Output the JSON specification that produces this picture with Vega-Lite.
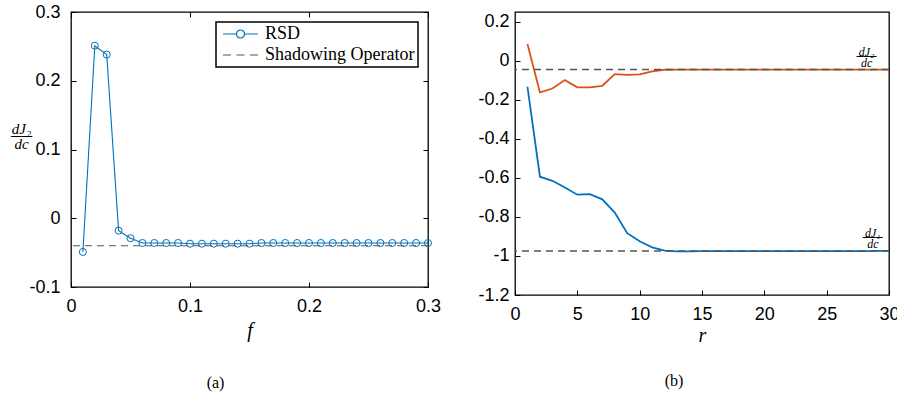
{
"$schema": "https://vega.github.io/schema/vega-lite/v6.json",
"background": "white",
"padding": {"left": 9, "top": 2, "right": 0, "bottom": 0},
"config": {
  "view": {"stroke": "#000", "strokeWidth": 1.3},
  "axis": {"domain": false, "grid": false, "tickColor": "#000", "tickSize": -5, "tickWidth": 1,
    "labelFont": "Liberation Sans", "labelFontSize": 18, "labelColor": "#000", "labelFlush": false, "labelOverlap": false,
    "titleFont": "Liberation Serif", "titleFontStyle": "italic", "titleFontWeight": "normal", "titleFontSize": 20, "titleColor": "#000"},
  "title": {"font": "Liberation Serif", "fontSize": 16, "fontWeight": "normal", "color": "#000"}
},
"resolve": {"scale": {"color": "independent"}, "legend": {"color": "independent"}},
"spacing": 35,
"hconcat": [
{
  "width": 357, "height": 275,
  "title": {"text": "(a)", "orient": "bottom", "anchor": "middle", "frame": "group", "dx": -34, "offset": 35},
  "data": {"values": [
    {"name": "RSD", "f": 0.01, "v": -0.049}, {"name": "RSD", "f": 0.02, "v": 0.251}, {"name": "RSD", "f": 0.03, "v": 0.238},
    {"name": "RSD", "f": 0.04, "v": -0.018}, {"name": "RSD", "f": 0.05, "v": -0.029}, {"name": "RSD", "f": 0.06, "v": -0.036},
    {"name": "RSD", "f": 0.07, "v": -0.036}, {"name": "RSD", "f": 0.08, "v": -0.036}, {"name": "RSD", "f": 0.09, "v": -0.036},
    {"name": "RSD", "f": 0.10, "v": -0.037}, {"name": "RSD", "f": 0.11, "v": -0.037}, {"name": "RSD", "f": 0.12, "v": -0.037},
    {"name": "RSD", "f": 0.13, "v": -0.037}, {"name": "RSD", "f": 0.14, "v": -0.037}, {"name": "RSD", "f": 0.15, "v": -0.037},
    {"name": "RSD", "f": 0.16, "v": -0.036}, {"name": "RSD", "f": 0.17, "v": -0.036}, {"name": "RSD", "f": 0.18, "v": -0.036},
    {"name": "RSD", "f": 0.19, "v": -0.036}, {"name": "RSD", "f": 0.20, "v": -0.036}, {"name": "RSD", "f": 0.21, "v": -0.036},
    {"name": "RSD", "f": 0.22, "v": -0.036}, {"name": "RSD", "f": 0.23, "v": -0.036}, {"name": "RSD", "f": 0.24, "v": -0.036},
    {"name": "RSD", "f": 0.25, "v": -0.036}, {"name": "RSD", "f": 0.26, "v": -0.036}, {"name": "RSD", "f": 0.27, "v": -0.036},
    {"name": "RSD", "f": 0.28, "v": -0.036}, {"name": "RSD", "f": 0.29, "v": -0.036}, {"name": "RSD", "f": 0.30, "v": -0.036}
  ]},
  "layer": [
    {
      "mark": {"type": "line", "strokeWidth": 1.1},
      "encoding": {
        "x": {"field": "f", "type": "quantitative", "scale": {"domain": [0, 0.3], "nice": false, "zero": false},
          "axis": {"orient": "bottom", "values": [0, 0.1, 0.2, 0.3], "labelPadding": 15, "labelExpr": "format(datum.value, '.1~f')", "title": "f", "titlePadding": 5}},
        "y": {"field": "v", "type": "quantitative", "scale": {"domain": [-0.1, 0.3], "nice": false, "zero": false},
          "axis": {"orient": "left", "values": [-0.1, 0, 0.1, 0.2, 0.3], "labelPadding": 16,
            "labelExpr": "(datum.value < -0.00001 ? '-' : '') + format(abs(datum.value), '.1~f')",
            "title": ["dJ₂", "──", "dc"], "titleFontSize": 15, "titleLineHeight": 7.5, "titleAngle": 0, "titleAlign": "center", "titleBaseline": "middle", "titleX": -50, "titleY": 116}},
        "color": {"field": "name", "type": "nominal",
          "scale": {"domain": ["RSD", "Shadowing Operator"], "range": ["#0072BD", "#555555"]},
          "legend": {"title": null, "orient": "top-right", "offset": 10, "padding": 3, "rowPadding": 3,
            "strokeColor": "#000", "fillColor": "#fff", "labelFont": "Liberation Serif", "labelFontSize": 18, "labelColor": "#000",
            "labelLimit": 400, "symbolSize": 100, "labelOffset": 28,
            "encode": {
              "legend": {"update": {"strokeWidth": {"value": 1.5}}},
              "symbols": {"update": {
                "shape": {"signal": "datum.value === 'RSD' ? 'M-1,0H1.7A0.8,0.8 0 1,1 3.3,0A0.8,0.8 0 1,1 1.7,0M3.3,0H6' : 'M-1,0H0.6M1.7,0H3.3M4.4,0H6'"},
                "stroke": {"signal": "datum.value === 'RSD' ? '#0072BD' : '#555555'"},
                "fill": {"value": "transparent"},
                "strokeWidth": {"value": 1.2},
                "strokeDash": {"value": [1, 0]},
                "opacity": {"value": 1}
              }}
            }}}
      }
    },
    {
      "mark": {"type": "point", "filled": false, "size": 50, "strokeWidth": 1, "color": "#0072BD", "opacity": 1},
      "encoding": {
        "x": {"field": "f", "type": "quantitative", "scale": {"domain": [0, 0.3], "nice": false, "zero": false},
          "axis": {"orient": "top", "values": [0, 0.1, 0.2, 0.3], "labels": false, "title": null}},
        "y": {"field": "v", "type": "quantitative", "scale": {"domain": [-0.1, 0.3], "nice": false, "zero": false},
          "axis": {"orient": "right", "values": [-0.1, 0, 0.1, 0.2, 0.3], "labels": false, "title": null}}
      }
    },
    {
      "data": {"values": [{"name": "Shadowing Operator", "value": -0.04}]},
      "mark": {"type": "rule", "strokeDash": [7, 5], "strokeWidth": 1.2, "color": "#555555"},
      "encoding": {
        "y": {"field": "value", "type": "quantitative", "scale": {"domain": [-0.1, 0.3], "nice": false, "zero": false}, "axis": null}
      }
    }
  ],
  "resolve": {"axis": {"x": "independent", "y": "independent"}}
},
{
  "width": 374, "height": 283,
  "title": {"text": "(b)", "orient": "bottom", "anchor": "middle", "frame": "group", "dx": -28, "offset": 28},
  "data": {"values": [
    {"series": "J2", "r": 1, "v": 0.086}, {"series": "J2", "r": 2, "v": -0.162}, {"series": "J2", "r": 3, "v": -0.142},
    {"series": "J2", "r": 4, "v": -0.099}, {"series": "J2", "r": 5, "v": -0.136}, {"series": "J2", "r": 6, "v": -0.136},
    {"series": "J2", "r": 7, "v": -0.128}, {"series": "J2", "r": 8, "v": -0.068}, {"series": "J2", "r": 9, "v": -0.072},
    {"series": "J2", "r": 10, "v": -0.070}, {"series": "J2", "r": 11, "v": -0.054}, {"series": "J2", "r": 12, "v": -0.046},
    {"series": "J2", "r": 13, "v": -0.045}, {"series": "J2", "r": 14, "v": -0.045}, {"series": "J2", "r": 15, "v": -0.045},
    {"series": "J2", "r": 16, "v": -0.045}, {"series": "J2", "r": 17, "v": -0.045}, {"series": "J2", "r": 18, "v": -0.045},
    {"series": "J2", "r": 19, "v": -0.045}, {"series": "J2", "r": 20, "v": -0.045}, {"series": "J2", "r": 21, "v": -0.045},
    {"series": "J2", "r": 22, "v": -0.045}, {"series": "J2", "r": 23, "v": -0.045}, {"series": "J2", "r": 24, "v": -0.045},
    {"series": "J2", "r": 25, "v": -0.045}, {"series": "J2", "r": 26, "v": -0.045}, {"series": "J2", "r": 27, "v": -0.045},
    {"series": "J2", "r": 28, "v": -0.045}, {"series": "J2", "r": 29, "v": -0.045}, {"series": "J2", "r": 30, "v": -0.045},
    {"series": "J1", "r": 1, "v": -0.133}, {"series": "J1", "r": 2, "v": -0.594}, {"series": "J1", "r": 3, "v": -0.615},
    {"series": "J1", "r": 4, "v": -0.649}, {"series": "J1", "r": 5, "v": -0.686}, {"series": "J1", "r": 6, "v": -0.683},
    {"series": "J1", "r": 7, "v": -0.710}, {"series": "J1", "r": 8, "v": -0.778}, {"series": "J1", "r": 9, "v": -0.883},
    {"series": "J1", "r": 10, "v": -0.925}, {"series": "J1", "r": 11, "v": -0.956}, {"series": "J1", "r": 12, "v": -0.973},
    {"series": "J1", "r": 13, "v": -0.976}, {"series": "J1", "r": 14, "v": -0.976}, {"series": "J1", "r": 15, "v": -0.975},
    {"series": "J1", "r": 16, "v": -0.975}, {"series": "J1", "r": 17, "v": -0.975}, {"series": "J1", "r": 18, "v": -0.975},
    {"series": "J1", "r": 19, "v": -0.975}, {"series": "J1", "r": 20, "v": -0.975}, {"series": "J1", "r": 21, "v": -0.975},
    {"series": "J1", "r": 22, "v": -0.975}, {"series": "J1", "r": 23, "v": -0.975}, {"series": "J1", "r": 24, "v": -0.975},
    {"series": "J1", "r": 25, "v": -0.975}, {"series": "J1", "r": 26, "v": -0.975}, {"series": "J1", "r": 27, "v": -0.975},
    {"series": "J1", "r": 28, "v": -0.975}, {"series": "J1", "r": 29, "v": -0.974}, {"series": "J1", "r": 30, "v": -0.974}
  ]},
  "layer": [
    {
      "mark": {"type": "line", "strokeWidth": 1.8},
      "encoding": {
        "x": {"field": "r", "type": "quantitative", "scale": {"domain": [0, 30], "nice": false, "zero": false},
          "axis": {"orient": "bottom", "values": [0, 5, 10, 15, 20, 25, 30], "labelPadding": 15, "title": "r", "titlePadding": 2}},
        "y": {"field": "v", "type": "quantitative", "scale": {"domain": [-1.2, 0.25], "nice": false, "zero": false},
          "axis": {"orient": "left", "values": [-1.2, -1, -0.8, -0.6, -0.4, -0.2, 0, 0.2], "labelPadding": 11,
            "labelExpr": "(datum.value < -0.00001 ? '-' : '') + format(abs(datum.value), '.1~f')", "title": null}},
        "color": {"field": "series", "type": "nominal", "scale": {"domain": ["J1", "J2"], "range": ["#0072BD", "#D95319"]}, "legend": null}
      }
    },
    {
      "data": {"values": [{"ref": "J2", "value": -0.045}, {"ref": "J1", "value": -0.975}]},
      "mark": {"type": "rule", "strokeDash": [7, 5], "strokeWidth": 1.5, "color": "#555555"},
      "encoding": {
        "y": {"field": "value", "type": "quantitative", "scale": {"domain": [-1.2, 0.25], "nice": false, "zero": false}, "axis": null}
      }
    },
    {
      "data": {"name": "labels", "values": [{"r": 28.2, "value": -0.045, "num": "dJ₂", "den": "dc"}, {"r": 28.7, "value": -0.975, "num": "dJ₁", "den": "dc"}]},
      "layer": [
        {
          "mark": {"type": "text", "font": "Liberation Serif", "fontStyle": "italic", "fontSize": 12, "baseline": "middle", "align": "center", "dy": -18, "color": "#000"},
          "encoding": {
            "x": {"field": "r", "type": "quantitative", "scale": {"domain": [0, 30], "nice": false, "zero": false},
              "axis": {"orient": "top", "values": [0, 5, 10, 15, 20, 25, 30], "labels": false, "title": null}},
            "y": {"field": "value", "type": "quantitative", "scale": {"domain": [-1.2, 0.25], "nice": false, "zero": false},
              "axis": {"orient": "right", "values": [-1.2, -1, -0.8, -0.6, -0.4, -0.2, 0, 0.2], "labels": false, "title": null}},
            "text": {"field": "num"}
          }
        },
        {
          "mark": {"type": "text", "font": "DejaVu Sans", "fontSize": 11, "baseline": "middle", "align": "center", "dy": -13, "color": "#000"},
          "encoding": {
            "x": {"field": "r", "type": "quantitative", "axis": null},
            "y": {"field": "value", "type": "quantitative", "axis": null},
            "text": {"value": "───"}
          }
        },
        {
          "mark": {"type": "text", "font": "Liberation Serif", "fontStyle": "italic", "fontSize": 12, "baseline": "middle", "align": "center", "dy": -7, "color": "#000"},
          "encoding": {
            "x": {"field": "r", "type": "quantitative", "axis": null},
            "y": {"field": "value", "type": "quantitative", "axis": null},
            "text": {"field": "den"}
          }
        }
      ]
    }
  ],
  "resolve": {"axis": {"x": "independent", "y": "independent"}}
}
]
}
